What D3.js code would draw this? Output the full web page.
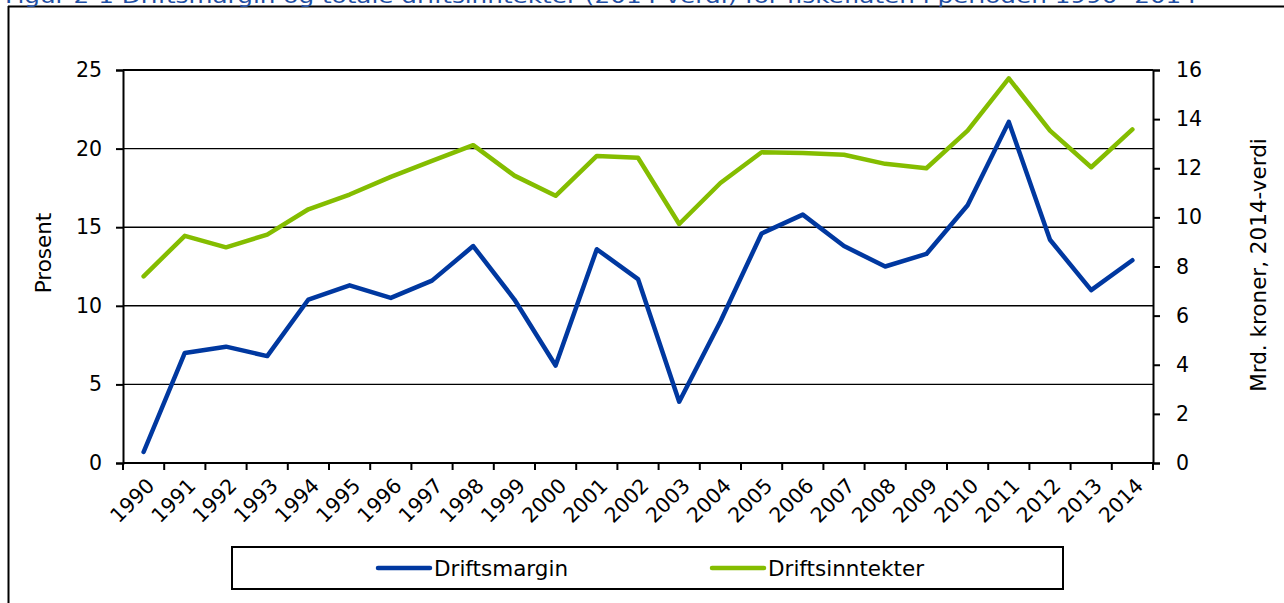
<!DOCTYPE html>
<html>
<head>
<meta charset="utf-8">
<script src="https://cdn.jsdelivr.net/npm/d3@7"></script>
<style>
  html, body { margin: 0; padding: 0; background: #fff; }
  svg { display: block; }
  text { font-family: "DejaVu Sans", Verdana, sans-serif; }
</style>
</head>
<body>
<svg id="chart" width="1284" height="603"></svg>
<script>
// ---- data ----
const years = ["1990","1991","1992","1993","1994","1995","1996","1997","1998","1999","2000","2001","2002","2003","2004","2005","2006","2007","2008","2009","2010","2011","2012","2013","2014"];
const driftsmargin = [0.7, 7.0, 7.4, 6.8, 10.4, 11.3, 10.5, 11.6, 13.8, 10.4, 6.2, 13.6, 11.7, 3.9, 9.0, 14.6, 15.8, 13.8, 12.5, 13.3, 16.4, 21.7, 14.2, 11.0, 12.9];
const driftsinntekter = [7.6, 9.25, 8.78, 9.3, 10.33, 10.93, 11.65, 12.3, 12.94, 11.7, 10.88, 12.5, 12.43, 9.73, 11.4, 12.65, 12.62, 12.55, 12.18, 12.0, 13.53, 15.66, 13.53, 12.04, 13.58];
const leftTicks = [0, 5, 10, 15, 20, 25];
const rightTicks = [0, 2, 4, 6, 8, 10, 12, 14, 16];
const seriesNames = ["Driftsmargin", "Driftsinntekter"];
const titleText = "Figur 2-1  Driftsmargin og totale driftsinntekter (2014-verdi) for fiskeflåten i perioden 1990- 2014";
const leftTitle = "Prosent";
const rightTitle = "Mrd. kroner, 2014-verdi";

// ---- styling ----
const blue = "#0038a0", green = "#84bd00";
const svg = d3.select("#chart");
const L = 123, R = 1153, T = 70, B = 463;

const x = d3.scaleBand().domain(years).range([L, R]);
const yL = d3.scaleLinear().domain([0, 25]).range([B, T]);
const yR = d3.scaleLinear().domain([0, 16]).range([B, T]);

// outer frame (cropped figure)
svg.append("line").attr("x1", 8.5).attr("x2", 8.5).attr("y1", 6).attr("y2", 603).attr("stroke", "#000").attr("stroke-width", 2);
svg.append("line").attr("x1", 8).attr("x2", 1284).attr("y1", 6.5).attr("y2", 6.5).attr("stroke", "#000").attr("stroke-width", 2);

// title (cut at top, as in the reference)
svg.append("text").attr("x", 5).attr("y", 3).attr("fill", "#1f4fa3")
  .attr("font-size", 20).attr("textLength", 1192).attr("lengthAdjust", "spacingAndGlyphs")
  .text(titleText);

// gridlines
svg.append("g").selectAll("line").data(leftTicks.filter(d => d > 0)).join("line")
  .attr("x1", L).attr("x2", R)
  .attr("y1", d => yL(d)).attr("y2", d => yL(d))
  .attr("stroke", "#000").attr("stroke-width", d => d === 25 ? 2 : 1.4);

// left axis
const gL = svg.append("g").attr("transform", `translate(${L},0)`)
  .call(d3.axisLeft(yL).tickValues(leftTicks).tickSize(7).tickPadding(14));
// right axis
const gR = svg.append("g").attr("transform", `translate(${R},0)`)
  .call(d3.axisRight(yR).tickValues(rightTicks).tickSize(7).tickPadding(16));
[gL, gR].forEach(g => {
  g.select(".domain").attr("stroke", "#000").attr("stroke-width", 2);
  g.selectAll(".tick line").attr("stroke", "#000").attr("stroke-width", 2);
  g.selectAll(".tick text").attr("font-size", 20.5).attr("fill", "#000")
    .attr("font-family", "DejaVu Sans, Verdana, sans-serif");
});

// x axis
const gX = svg.append("g");
gX.append("line").attr("x1", L).attr("x2", R).attr("y1", B).attr("y2", B).attr("stroke", "#000").attr("stroke-width", 2);
const bounds = years.map(y => x(y)).concat([R]);
gX.selectAll("line.tk").data(bounds).join("line").attr("class", "tk")
  .attr("x1", d => d).attr("x2", d => d).attr("y1", B).attr("y2", B + 7)
  .attr("stroke", "#000").attr("stroke-width", 2);
gX.selectAll("text").data(years).join("text")
  .attr("transform", d => `translate(${x(d) + x.bandwidth() / 2 + 7},${B + 19}) rotate(-45)`)
  .attr("text-anchor", "end").attr("dy", "0.35em")
  .attr("font-size", 20.5).attr("fill", "#000")
  .text(d => d);

// axis titles
svg.append("text").attr("transform", "translate(43,253) rotate(-90)")
  .attr("text-anchor", "middle").attr("dy", "0.35em").attr("font-size", 21.5).text(leftTitle);
svg.append("text").attr("transform", "translate(1258,265) rotate(-90)")
  .attr("text-anchor", "middle").attr("dy", "0.35em").attr("font-size", 21.5).text(rightTitle);

// lines
const cx = d => x(d) + x.bandwidth() / 2;
const lineL = d3.line().x((d, i) => cx(years[i])).y(d => yL(d));
const lineR = d3.line().x((d, i) => cx(years[i])).y(d => yR(d));
svg.append("path").datum(driftsinntekter).attr("d", lineR)
  .attr("fill", "none").attr("stroke", green).attr("stroke-width", 4.5)
  .attr("stroke-linejoin", "round").attr("stroke-linecap", "round");
svg.append("path").datum(driftsmargin).attr("d", lineL)
  .attr("fill", "none").attr("stroke", blue).attr("stroke-width", 4.5)
  .attr("stroke-linejoin", "round").attr("stroke-linecap", "round");

// legend
const lg = svg.append("g");
lg.append("rect").attr("x", 232).attr("y", 547).attr("width", 831).attr("height", 42)
  .attr("fill", "#fff").attr("stroke", "#000").attr("stroke-width", 2);
const legItems = [
  { name: seriesNames[0], color: blue, x0: 378 },
  { name: seriesNames[1], color: green, x0: 712 }
];
legItems.forEach(it => {
  lg.append("line").attr("x1", it.x0).attr("x2", it.x0 + 52).attr("y1", 568).attr("y2", 568)
    .attr("stroke", it.color).attr("stroke-width", 4.5).attr("stroke-linecap", "round");
  lg.append("text").attr("x", it.x0 + 56).attr("y", 568).attr("dy", "0.35em")
    .attr("font-size", 21.5).attr("fill", "#000").text(it.name);
});
</script>
</body>
</html>
